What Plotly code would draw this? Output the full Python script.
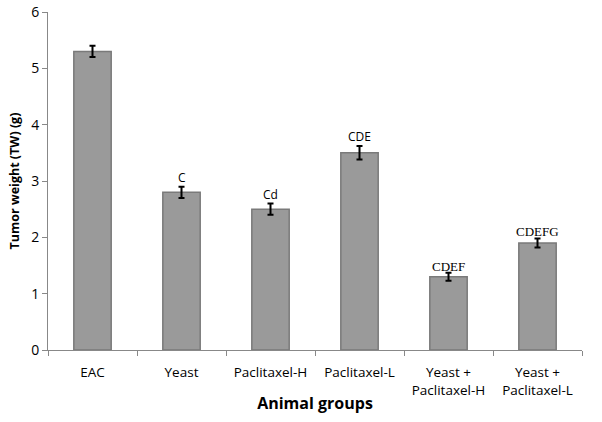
import plotly.graph_objects as go

groups = ["EAC", "Yeast", "Paclitaxel-H", "Paclitaxel-L", "Yeast +<br>Paclitaxel-H", "Yeast +<br>Paclitaxel-L"]
tumor_weight = [5.3, 2.8, 2.5, 3.5, 1.3, 1.9]
sem = [0.1, 0.1, 0.1, 0.12, 0.07, 0.08]
sig_labels = ["", "C", "Cd", "CDE", "CDEF", "CDEFG"]
sig_fonts = ["Open Sans", "Open Sans", "Open Sans", "Open Sans", "Liberation Serif", "Liberation Serif"]

fig = go.Figure()
fig.add_trace(go.Bar(
    x=groups, y=tumor_weight,
    marker=dict(color="#9a9a9a", line=dict(color="#7a7a7a", width=1.5)),
    error_y=dict(type="data", array=sem, color="black", thickness=2, width=3),
    width=0.42,
))

for g, v, e, lab, f in zip(groups, tumor_weight, sem, sig_labels, sig_fonts):
    if lab:
        serif = f == "Liberation Serif"
        fig.add_annotation(x=g, y=v + e, text=lab, showarrow=False, yanchor="bottom",
                           yshift=-3 if serif else -1,
                           font=dict(family=f, size=13 if serif else 12, color="black"))

fig.update_layout(
    width=602, height=422,
    margin=dict(l=48, r=20, t=12, b=72, autoexpand=False),
    paper_bgcolor="white", plot_bgcolor="white",
    showlegend=False,
    font=dict(family="Open Sans", size=13, color="black"),
    xaxis=dict(
        automargin=False,
        showline=True, linecolor="#888", linewidth=1,
        ticks="outside", tickson="boundaries", ticklen=5, tickcolor="#888",
        ticklabelstandoff=10,
        tickfont=dict(size=13.5),
        title=dict(text="<b>Animal groups</b>", font=dict(size=16), standoff=0),
    ),
    yaxis=dict(
        automargin=False,
        range=[0, 6], dtick=1, showgrid=False, zeroline=False,
        showline=True, linecolor="#888", linewidth=1,
        ticks="outside", ticklen=5, tickcolor="#888",
        tickfont=dict(size=14),
        title=dict(text="<b>Tumor weight (TW) (g)</b>", font=dict(size=12.5), standoff=8),
    ),
)

fig.write_html("out.html", config={"displayModeBar": False},
               post_script="document.body.style.margin='0';")
